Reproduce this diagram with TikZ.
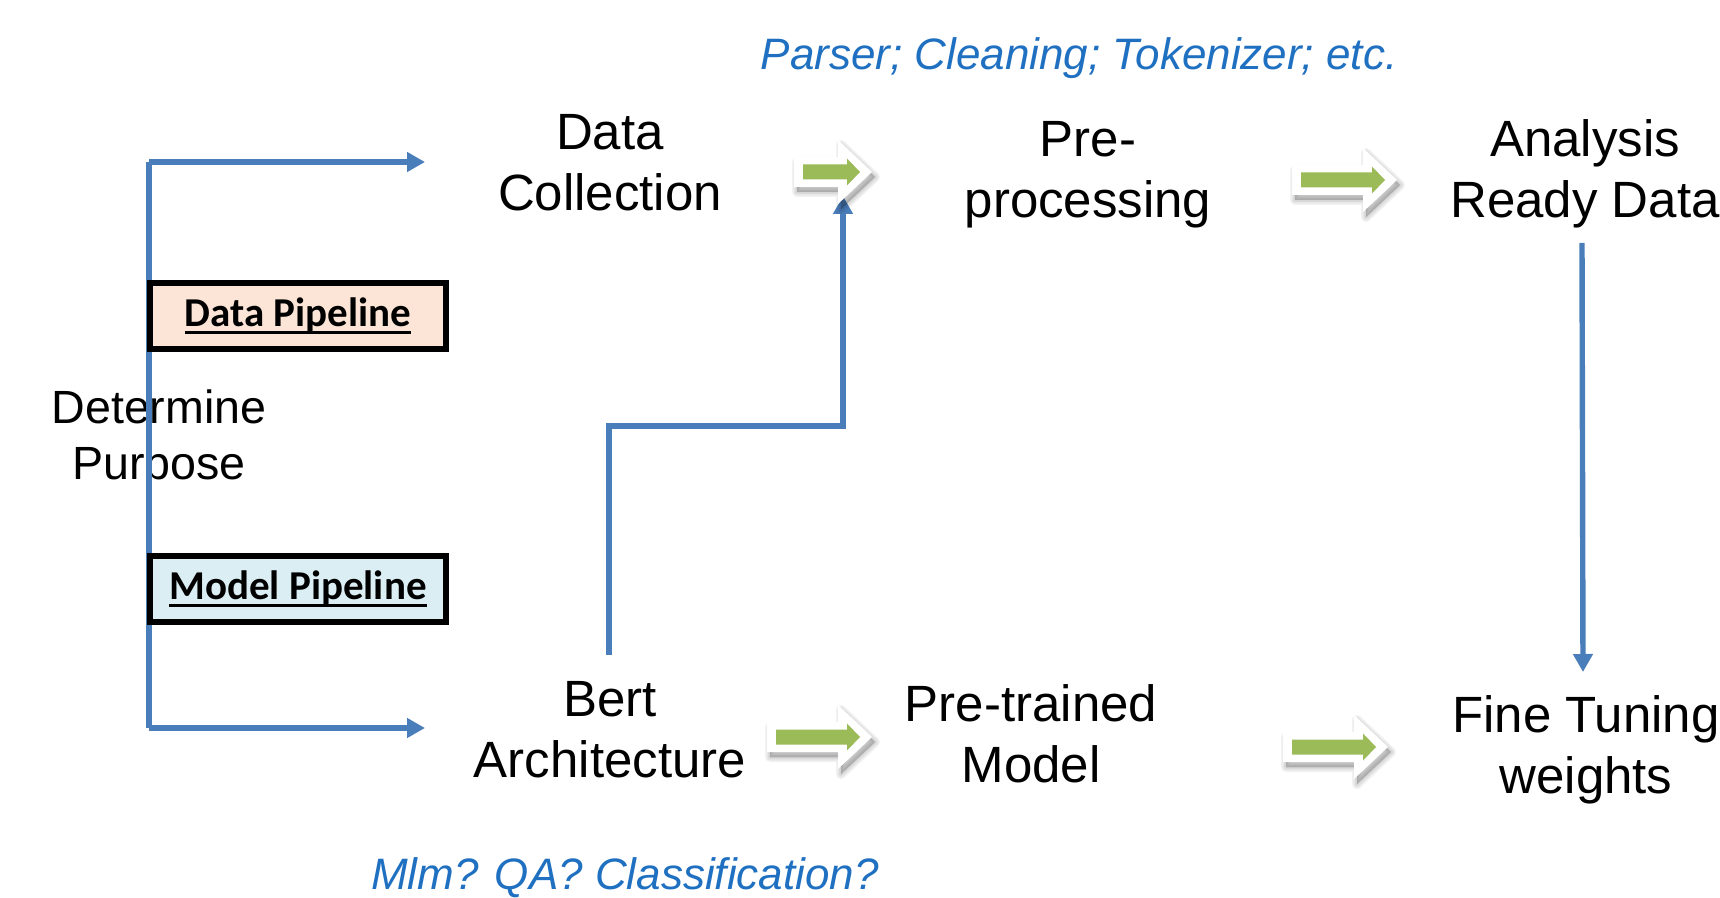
\documentclass[tikz,border=0pt]{standalone}
\usepackage{fontspec}
\setmainfont{Liberation Sans}
\newfontfamily\carlitofont{Carlito}
\usetikzlibrary{arrows.meta}
\definecolor{lineblue}{HTML}{4A7EBB}
\definecolor{textblue}{HTML}{1F70C1}
\definecolor{arrowgreen}{HTML}{9BBB59}
\definecolor{peach}{HTML}{FCE4D6}
\definecolor{paleblue}{HTML}{DAEEF3}
\newcommand\myul[1]{\setbox0\hbox{#1}\leavevmode\rlap{\rule[-3.4pt]{\wd0}{1.4pt}}\box0}
\newcommand\wshape[3]{(#1,{#3-15}) -- ({#2-34},{#3-15}) -- ({#2-34},{#3-32}) -- (#2,#3)
    -- ({#2-34},{#3+32}) -- ({#2-34},{#3+15}) -- (#1,{#3+15}) -- cycle}
\newcommand\garrow[3]{%
  \foreach \k in {10,7,4,1}{%
    \filldraw[black, opacity=0.05, line width=\k*0.5pt, line join=round, shift={(3,5)}]
      \wshape{#1}{#2}{#3};}
  \fill[white] \wshape{#1}{#2}{#3};
  \fill[arrowgreen]
    ({#1+9},{#3-7.5}) -- ({#2-25},{#3-7.5}) -- ({#2-25},{#3-13.5}) -- ({#2-12},#3)
    -- ({#2-25},{#3+13.5}) -- ({#2-25},{#3+7.5}) -- ({#1+9},{#3+7.5}) -- cycle;
}
\tikzset{
  lbl/.style={font=\fontsize{25.5}{30.5}\selectfont, align=center, inner sep=0pt},
  note/.style={font=\fontsize{22}{26}\selectfont\itshape, text=textblue, inner sep=0pt},
  pipebox/.style={draw=black, line width=2.6pt, minimum width=148pt, minimum height=33pt,
    inner sep=0pt, font=\carlitofont\bfseries\fontsize{20.5}{23}\selectfont},
  conn/.style={draw=lineblue, line width=2.7pt},
  conna/.style={conn, -{Triangle[length=9pt,width=9.5pt]}},
}
\begin{document}
\begin{tikzpicture}[x=0.5pt,y=-0.5pt]
\useasboundingbox (0,0) rectangle (1720,898);

% texts
\node[note] (parser) at (1079,58) {Parser; Cleaning; Tokenizer; etc.};
\node[note] (mlm) at (625,878) {Mlm? QA? Classification?};
\node[lbl] (dc) at (610,163) {Data\\Collection};
\node[lbl] (pp) at (1088,175) {Pre-\\processing};
\node[lbl] (ard) at (1585,174) {Analysis\\Ready Data};
\node[lbl, font=\fontsize{23.3}{28}\selectfont] (dp) at (159,439) {Determine\\Purpose};
\node[lbl] (bert) at (610,730) {Bert\\Architecture};
\node[lbl] (ptm) at (1031,734) {Pre-trained\\Model};
\node[lbl] (ftw) at (1586,750) {Fine Tuning\\weights};

% blue connectors
\coordinate (spineTop) at (149,162);
\coordinate (spineBot) at (149,728);
\coordinate (dcIn) at (425,162);
\coordinate (bertIn) at (425,728);
\path[conn] (spineTop) -- (spineBot);
\path[conna] (spineTop) -- (dcIn);
\path[conna] (spineBot) -- (bertIn);

\coordinate (bertOut) at (609,655);
\coordinate (ppIn) at (843,196);
\path[conna] (bertOut) |- (843,426) -- (ppIn);

\coordinate (ardOut) at (1582,243);
\coordinate (ftwIn) at (1583,672);
\path[conna] (ardOut) -- (ftwIn);

% pipeline boxes
\node[pipebox, fill=peach] (dpl) at (298,316) {\myul{Data Pipeline}};
\node[pipebox, fill=paleblue] (mpl) at (298,589) {\myul{Model Pipeline}};

% green block arrows
\garrow{794}{872}{172}
\garrow{1292}{1397}{180}
\garrow{767}{872}{737}
\garrow{1283}{1388}{747}
\end{tikzpicture}
\end{document}
